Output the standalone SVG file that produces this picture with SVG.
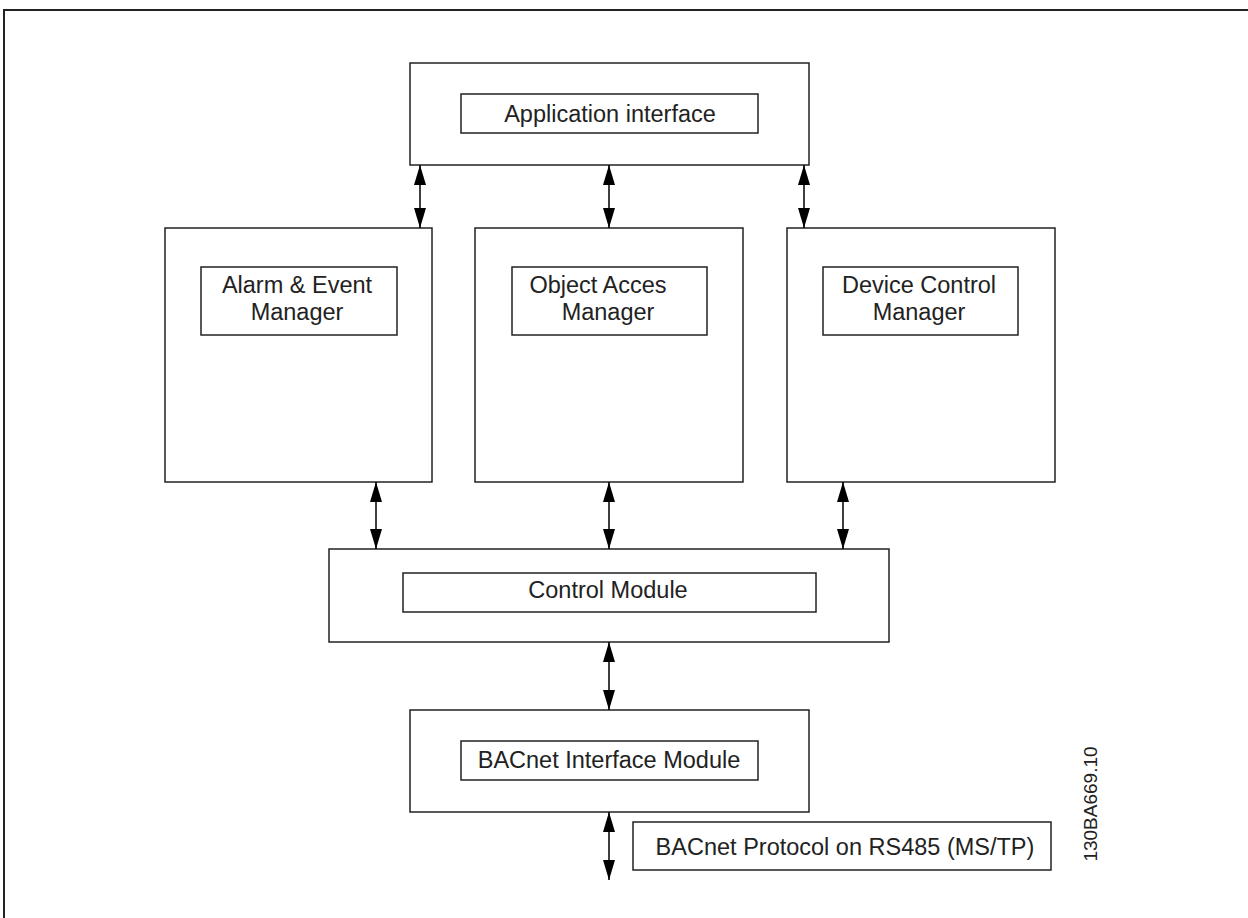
<svg xmlns="http://www.w3.org/2000/svg" width="1248" height="918" viewBox="0 0 1248 918">
<style>
.box{fill:#fff;stroke:#222;stroke-width:1.5}
.t{font-family:"Liberation Sans",Arial,sans-serif;font-size:23.5px;fill:#222;text-anchor:middle}
.c{stroke:#000;stroke-width:1.5;fill:none;marker-start:url(#ah);marker-end:url(#ah)}
.frame{stroke:#222;stroke-width:2;fill:none}
</style>
<defs>
<marker id="ah" viewBox="0 0 20 12" refX="20" refY="6" markerWidth="20" markerHeight="12" markerUnits="userSpaceOnUse" orient="auto-start-reverse">
<path d="M0,0 L20,6 L0,12 Z" fill="#000"/>
</marker>
</defs>
<rect width="1248" height="918" fill="#fff"/>
<path class="frame" d="M4,918 V10 H1248"/>
<g id="app">
<rect class="box" x="410" y="63" width="399" height="102"/>
<rect class="box" x="461" y="94" width="297" height="39"/>
<text class="t" x="610" y="122">Application interface</text>
</g>
<g id="alarm">
<rect class="box" x="165" y="228" width="267" height="254"/>
<rect class="box" x="201" y="267" width="196" height="68"/>
<text class="t" x="297" y="293">Alarm &amp; Event</text>
<text class="t" x="297" y="320">Manager</text>
</g>
<g id="object">
<rect class="box" x="475" y="228" width="268" height="254"/>
<rect class="box" x="512" y="267" width="195" height="68"/>
<text class="t" x="598" y="293">Object Acces</text>
<text class="t" x="608" y="320">Manager</text>
</g>
<g id="device">
<rect class="box" x="787" y="228" width="268" height="254"/>
<rect class="box" x="823" y="267" width="195" height="68"/>
<text class="t" x="919" y="293">Device Control</text>
<text class="t" x="919" y="320">Manager</text>
</g>
<g id="control">
<rect class="box" x="329" y="549" width="560" height="93"/>
<rect class="box" x="403" y="573" width="413" height="39"/>
<text class="t" x="608" y="598">Control Module</text>
</g>
<g id="bacnet">
<rect class="box" x="410" y="710" width="399" height="102"/>
<rect class="box" x="461" y="741" width="297" height="39"/>
<text class="t" x="609" y="768">BACnet Interface Module</text>
</g>
<g id="protocol">
<rect class="box" x="633" y="822" width="418" height="48"/>
<text class="t" x="845" y="855">BACnet Protocol on RS485 (MS/TP)</text>
</g>
<g id="connectors">
<line class="c" x1="420" y1="165" x2="420" y2="228"/>
<line class="c" x1="609" y1="165" x2="609" y2="228"/>
<line class="c" x1="804" y1="165" x2="804" y2="228"/>
<line class="c" x1="376" y1="482" x2="376" y2="549"/>
<line class="c" x1="609" y1="482" x2="609" y2="549"/>
<line class="c" x1="843" y1="482" x2="843" y2="549"/>
<line class="c" x1="609" y1="642" x2="609" y2="710"/>
<line class="c" x1="609" y1="812" x2="609" y2="880"/>
</g>
<text transform="translate(1097,804) rotate(-90)" style="font-family:'Liberation Sans',Arial,sans-serif;font-size:19px;fill:#222;text-anchor:middle">130BA669.10</text>
</svg>
